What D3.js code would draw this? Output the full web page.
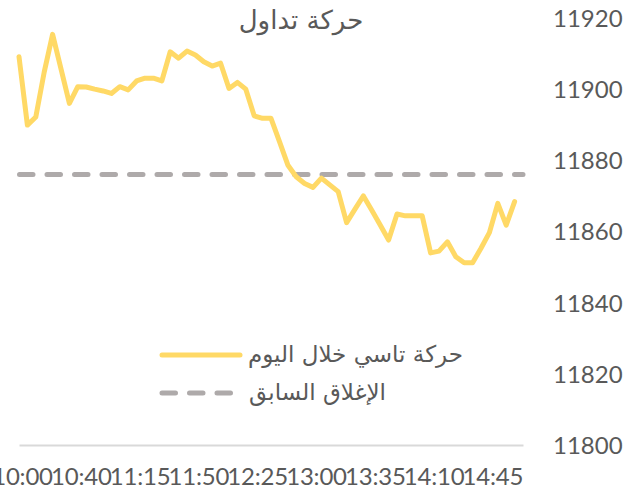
<!DOCTYPE html>
<html>
<head>
<meta charset="utf-8">
<script src="https://cdn.jsdelivr.net/npm/d3@7"></script>
<style>
  html, body { margin: 0; padding: 0; background: #ffffff; }
  svg { display: block; }
</style>
</head>
<body>
<div id="chart"></div>
<script>
// ---- data ----
const times = [
  "10:00","10:10","10:15","10:20","10:25","10:30","10:35","10:40","10:45","10:50",
  "10:55","11:00","11:05","11:10","11:15","11:20","11:25","11:30","11:35","11:40",
  "11:45","11:50","11:55","12:00","12:05","12:10","12:15","12:20","12:25","12:30",
  "12:35","12:40","12:45","12:50","12:55","13:00","13:05","13:10","13:15","13:20",
  "13:25","13:30","13:35","13:40","13:45","13:50","13:55","14:00","14:05","14:10",
  "14:15","14:20","14:25","14:30","14:35","14:40","14:45","14:50","14:55","15:00"
];
const tasiValues = [
  11909.1, 11889.9, 11892.2, 11904.8, 11915.4, 11905.7, 11896.0, 11900.7, 11900.6, 11900.0,
  11899.5, 11898.8, 11900.7, 11899.8, 11902.3, 11903.1, 11903.1, 11902.3, 11910.5, 11908.7,
  11910.7, 11909.6, 11907.7, 11906.5, 11907.3, 11900.2, 11901.9, 11900.0, 11892.5, 11891.8,
  11891.8, 11885.3, 11878.7, 11875.4, 11873.5, 11872.4, 11875.0, 11873.1, 11871.2, 11862.5,
  11866.3, 11870.0, 11866.0, 11861.8, 11857.6, 11864.9, 11864.4, 11864.4, 11864.4, 11854.0,
  11854.5, 11857.1, 11852.9, 11851.2, 11851.2, 11855.3, 11859.7, 11867.9, 11861.8, 11868.4
];
const previousClose = 11876;
const xTickLabels = ["10:00","10:40","11:15","11:50","12:25","13:00","13:35","14:10","14:45"];
const yTicks = [11800, 11820, 11840, 11860, 11880, 11900, 11920];
const titleText = "حركة تداول";
const seriesNames = ["حركة تاسي خلال اليوم", "الإغلاق السابق"];

// ---- layout ----
const W = 640, H = 490;
const svg = d3.select("#chart").append("svg").attr("width", W).attr("height", H);

const x = d3.scaleLinear().domain([0, times.length]).range([19, 523]);
const y = d3.scaleLinear().domain([11800, 11920]).range([445, 18]);

const textColor = "#595959";
const numFont = "Lato, 'Liberation Sans', sans-serif";
const arFont = "'DejaVu Sans', sans-serif";
const yellow = "#FFD966";
const grey = "#AEAAAA";

// title
svg.append("text")
  .attr("x", 301).attr("y", 29)
  .attr("text-anchor", "middle")
  .attr("font-family", arFont).attr("font-size", 26)
  .attr("fill", textColor)
  .text(titleText);

// y axis (right side, labels only)
const yAxis = d3.axisRight(y).tickValues(yTicks).tickSize(0).tickPadding(0).tickFormat(d3.format("d"));
const gy = svg.append("g").attr("transform", "translate(553,0)").call(yAxis);
gy.select(".domain").remove();
gy.selectAll("text")
  .attr("font-family", numFont).attr("font-size", 24)
  .attr("fill", textColor).attr("dy", "0.35em").attr("x", 0);

// x axis
const tickIdx = xTickLabels.map(t => times.indexOf(t));
const xAxis = d3.axisBottom(x).tickValues(tickIdx).tickSize(0).tickPadding(0)
  .tickFormat(i => times[i]);
const gx = svg.append("g").attr("transform", `translate(0,${y(11800)})`).call(xAxis);
gx.select(".domain")
  .attr("stroke", "#D9D9D9").attr("stroke-width", 2);
gx.selectAll(".tick").attr("transform", function () {
  const t = d3.select(this).attr("transform");
  const m = /translate\(([-\d.]+),/.exec(t);
  return `translate(${+m[1] + 3},0)`;
});
gx.selectAll("text")
  .attr("font-family", numFont).attr("font-size", 24)
  .attr("fill", textColor)
  .attr("letter-spacing", "-0.2px")
  .attr("dy", 0).attr("y", 40);

// previous close dashed line
svg.append("line")
  .attr("x1", x(0) - 1).attr("x2", x(times.length))
  .attr("y1", y(previousClose)).attr("y2", y(previousClose))
  .attr("stroke", grey).attr("stroke-width", 5)
  .attr("stroke-dasharray", "13.5,14").attr("stroke-linecap", "round")
  .attr("stroke-dashoffset", -1.5);

// TASI line
const line = d3.line().x((d, i) => x(i)).y(d => y(d));
svg.append("path")
  .datum(tasiValues)
  .attr("d", line)
  .attr("fill", "none")
  .attr("stroke", yellow).attr("stroke-width", 5)
  .attr("stroke-linejoin", "round").attr("stroke-linecap", "round");

// legend
const legend = svg.append("g");
legend.append("line")
  .attr("x1", 162).attr("x2", 240).attr("y1", 355).attr("y2", 355)
  .attr("stroke", yellow).attr("stroke-width", 5).attr("stroke-linecap", "round");
legend.append("text")
  .attr("x", 463).attr("y", 362).attr("text-anchor", "end")
  .attr("font-family", arFont).attr("font-size", 23).attr("fill", textColor)
  .text(seriesNames[0]);
legend.append("line")
  .attr("x1", 162).attr("x2", 240).attr("y1", 393).attr("y2", 393)
  .attr("stroke", grey).attr("stroke-width", 5).attr("stroke-linecap", "round")
  .attr("stroke-dasharray", "13.5,14");
legend.append("text")
  .attr("x", 386).attr("y", 400).attr("text-anchor", "end")
  .attr("font-family", arFont).attr("font-size", 23).attr("fill", textColor)
  .text(seriesNames[1]);
</script>
</body>
</html>
